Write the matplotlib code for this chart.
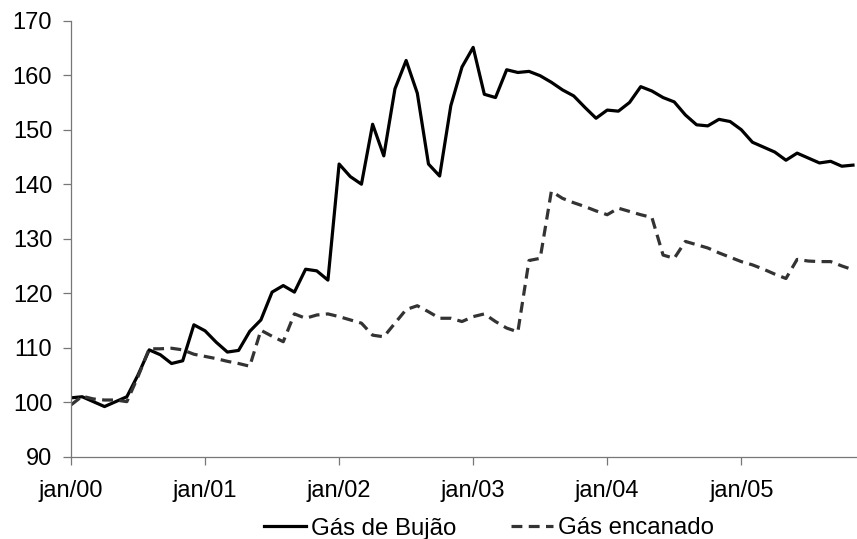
import matplotlib.pyplot as plt
import numpy as np

plt.rcParams['font.family'] = ['Liberation Sans', 'DejaVu Sans']

# monthly index, jan/00 .. nov/05
bujao = [100.8, 101.0, 100.1, 99.2, 100.1, 101.0, 105.0, 109.6, 108.7, 107.1, 107.6, 114.2,
         113.1, 111.0, 109.2, 109.5, 113.0, 115.1, 120.2, 121.4, 120.2, 124.4, 124.1, 122.4,
         143.7, 141.4, 140.0, 151.0, 145.2, 157.5, 162.7, 156.7, 143.7, 141.5, 154.4, 161.5,
         165.1, 156.5, 155.9, 161.0, 160.5, 160.7, 159.9, 158.7, 157.3, 156.2, 154.1, 152.1,
         153.6, 153.4, 155.0, 157.9, 157.1, 155.9, 155.1, 152.7, 150.9, 150.7, 151.9, 151.5,
         150.0, 147.7, 146.8, 145.9, 144.4, 145.7, 144.8, 143.9, 144.2, 143.3, 143.5]

encanado = [99.5, 101.1, 100.6, 100.4, 100.4, 100.1, 104.7, 109.8, 109.8, 109.9, 109.6, 108.8,
            108.4, 108.0, 107.5, 107.1, 106.6, 113.2, 112.1, 111.1, 116.2, 115.4, 116.0, 116.2,
            115.7, 115.1, 114.5, 112.3, 112.0, 114.5, 117.0, 117.7, 116.6, 115.4, 115.4, 114.8,
            115.7, 116.2, 114.8, 113.6, 112.9, 126.0, 126.4, 138.7, 137.4, 136.6, 135.9, 135.1,
            134.4, 135.6, 135.0, 134.4, 133.9, 127.0, 126.4, 129.5, 128.9, 128.3, 127.4, 126.6,
            125.8, 125.2, 124.4, 123.5, 122.7, 126.2, 125.9, 125.8, 125.8, 125.0, 124.3]

tick_labels = ['jan/00', 'jan/01', 'jan/02', 'jan/03', 'jan/04', 'jan/05']
y_ticks = [90, 100, 110, 120, 130, 140, 150, 160, 170]

x = np.arange(len(bujao))

fig = plt.figure(figsize=(8.57, 5.39), dpi=100)
ax = fig.add_axes([71 / 857, 1 - 456.7 / 539, 786 / 857, 436 / 539])

ax.plot(x, bujao, color='black', lw=2.3, label='Gás de Bujão')
ax.plot(x, encanado, color='#333333', lw=2.3, linestyle=(0, (3.4, 2.0)), label='Gás encanado')

ax.set_xlim(0, 70.36)
ax.set_ylim(90, 170)
ax.set_xticks(np.arange(len(tick_labels)) * 12)
ax.set_xticklabels(tick_labels)
ax.set_yticks(y_ticks)

for s in ['top', 'right']:
    ax.spines[s].set_visible(False)
for s in ['left', 'bottom']:
    ax.spines[s].set_color('#777777')
    ax.spines[s].set_linewidth(0.9)

ax.tick_params(axis='both', direction='out', length=5.5, width=0.9, color='#777777',
               labelsize=17, labelcolor='black')
ax.tick_params(axis='x', pad=11)
ax.tick_params(axis='y', pad=8)

fig.legend(loc='center', bbox_to_anchor=(489 / 857, 1 - 528.5 / 539), ncol=2, frameon=False,
           fontsize=17.3, handlelength=1.75, handletextpad=0.2, columnspacing=2.3,
           borderaxespad=0, borderpad=0)

plt.savefig('out.png', dpi=100)
plt.close()
